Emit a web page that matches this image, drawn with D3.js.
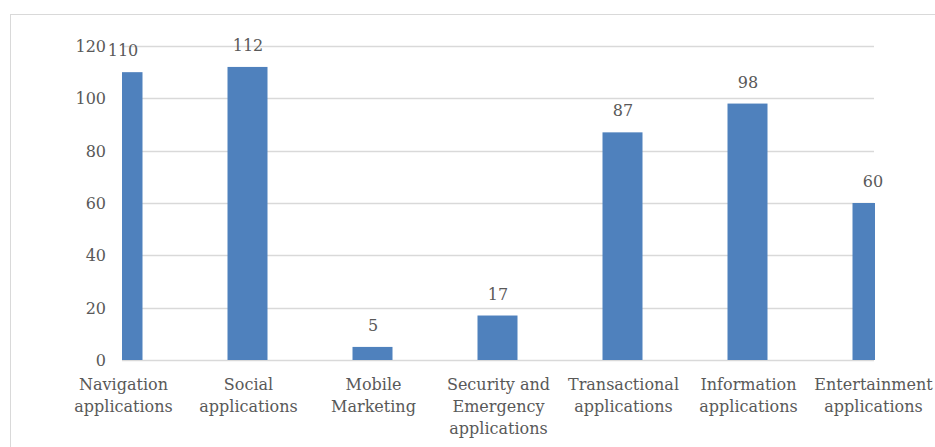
<!DOCTYPE html>
<html>
<head>
<meta charset="utf-8">
<script src="https://cdn.jsdelivr.net/npm/d3@7"></script>
<style>
  html, body { margin: 0; padding: 0; background: #fff; }
  svg { display: block; }
</style>
</head>
<body>
<svg id="chart" width="935" height="447"></svg>
<script>
const categories = [
  ["Navigation", "applications"],
  ["Social", "applications"],
  ["Mobile", "Marketing"],
  ["Security and", "Emergency", "applications"],
  ["Transactional", "applications"],
  ["Information", "applications"],
  ["Entertainment", "applications"]
];
const values = [110, 112, 5, 17, 87, 98, 60];
const yTicks = [0, 20, 40, 60, 80, 100, 120];

const FONT = "'DejaVu Serif', 'Liberation Serif', serif";
const TEXT = "#595959";
const GRID = "#d9d9d9";
const BAR = "#4f81bd";

const svg = d3.select("#chart");

// chart border (partially outside the view)
svg.append("rect")
  .attr("x", 10.5).attr("y", 14.5)
  .attr("width", 1000).attr("height", 1000)
  .attr("fill", "none").attr("stroke", GRID).attr("stroke-width", 1);

const plotLeft = 122, plotRight = 874, plotTop = 46, plotBottom = 360;

const x = d3.scalePoint()
  .domain(d3.range(categories.length))
  .range([122.5, 872.5])
  .padding(0);

const y = d3.scaleLinear().domain([0, 120]).range([plotBottom, plotTop]);

const barWidth = 40;

svg.append("defs").append("clipPath").attr("id", "plotClip")
  .append("rect")
  .attr("x", plotLeft).attr("y", 0)
  .attr("width", plotRight - plotLeft + 1).attr("height", plotBottom + 1);

// gridlines
svg.append("g")
  .selectAll("line")
  .data(yTicks)
  .join("line")
  .attr("x1", plotLeft).attr("x2", plotRight)
  .attr("y1", d => Math.round(y(d)) + 0.5)
  .attr("y2", d => Math.round(y(d)) + 0.5)
  .attr("stroke", GRID).attr("stroke-width", 1.5);

// y axis labels
const yAxis = d3.axisLeft(y).tickValues(yTicks).tickSize(0).tickPadding(0);
const yg = svg.append("g")
  .attr("transform", `translate(106,0)`)
  .call(yAxis);
yg.select(".domain").remove();
yg.selectAll("text")
  .attr("font-family", FONT).attr("font-size", 16)
  .attr("fill", TEXT).attr("dy", "0.35em");

// bars
svg.append("g").attr("clip-path", "url(#plotClip)")
  .selectAll("rect")
  .data(values)
  .join("rect")
  .attr("x", (d, i) => x(i) - barWidth / 2)
  .attr("width", barWidth)
  .attr("y", d => y(d))
  .attr("height", d => y(0) - y(d))
  .attr("fill", BAR);

// value labels
svg.append("g")
  .selectAll("text")
  .data(values)
  .join("text")
  .attr("x", (d, i) => x(i) + 0.5)
  .attr("y", d => y(d) - 16)
  .attr("text-anchor", "middle")
  .attr("font-family", FONT).attr("font-size", 16)
  .attr("fill", TEXT)
  .text(d => d);

// category labels
const cg = svg.append("g");
categories.forEach((lines, i) => {
  const t = cg.append("text")
    .attr("x", x(i) + 1)
    .attr("y", 390)
    .attr("text-anchor", "middle")
    .attr("font-family", FONT).attr("font-size", 16)
    .attr("fill", TEXT);
  lines.forEach((ln, j) => {
    t.append("tspan").attr("x", x(i) + 1).attr("dy", j === 0 ? 0 : 22).text(ln);
  });
});
</script>
</body>
</html>
